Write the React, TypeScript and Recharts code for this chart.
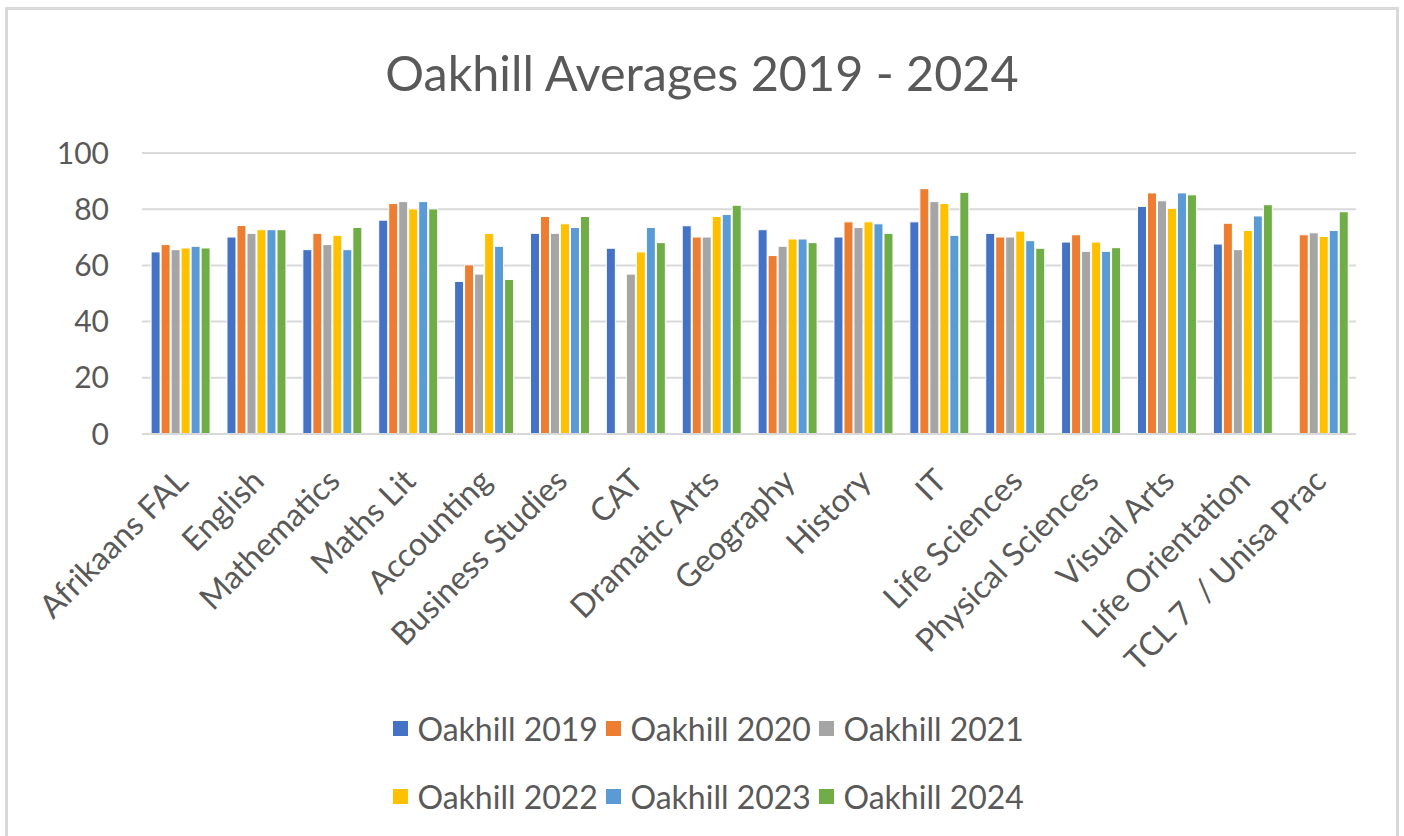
import React from 'react';
import { BarChart, Bar, XAxis, YAxis, CartesianGrid, Legend } from 'recharts';

const categories = [
  'Afrikaans FAL', 'English', 'Mathematics', 'Maths Lit', 'Accounting', 'Business Studies', 'CAT',
  'Dramatic Arts', 'Geography', 'History', 'IT', 'Life Sciences', 'Physical Sciences', 'Visual Arts',
  'Life Orientation', 'TCL 7  / Unisa Prac',
];
const oakhill2019 = [64.8, 70.1, 65.6, 76.1, 54.3, 71.4, 66.1, 74.1, 72.7, 70.1, 75.5, 71.4, 68.3, 81.0, 67.6, null];
const oakhill2020 = [67.4, 74.2, 71.4, 82.0, 60.2, 77.4, null, 70.1, 63.5, 75.5, 87.3, 70.1, 70.9, 85.8, 75.0, 70.9];
const oakhill2021 = [65.6, 71.4, 67.4, 82.7, 56.9, 71.4, 56.9, 70.1, 66.8, 73.5, 82.7, 70.1, 65.0, 83.0, 65.6, 71.6];
const oakhill2022 = [66.2, 72.7, 70.7, 80.1, 71.4, 74.8, 64.8, 77.4, 69.4, 75.5, 82.0, 72.2, 68.3, 80.3, 72.4, 70.3];
const oakhill2023 = [66.8, 72.7, 65.6, 82.7, 66.8, 73.5, 73.5, 78.1, 69.4, 74.8, 70.7, 68.8, 65.0, 85.8, 77.6, 72.4];
const oakhill2024 = [66.2, 72.7, 73.5, 80.1, 55.0, 77.4, 68.1, 81.4, 68.1, 71.4, 86.0, 66.1, 66.3, 85.1, 81.6, 79.1];

const seriesNames = ['Oakhill 2019', 'Oakhill 2020', 'Oakhill 2021', 'Oakhill 2022', 'Oakhill 2023', 'Oakhill 2024'];
const seriesValues = [oakhill2019, oakhill2020, oakhill2021, oakhill2022, oakhill2023, oakhill2024];
const seriesColors = ['#4472C4', '#ED7D31', '#A5A5A5', '#FFC000', '#5B9BD5', '#70AD47'];
const yTicks = [0, 20, 40, 60, 80, 100];
const titleText = 'Oakhill Averages 2019 - 2024';

const data = categories.map((c, i) => {
  const row: Record<string, any> = { category: c };
  seriesNames.forEach((s, k) => {
    row[s] = seriesValues[k][i];
  });
  return row;
});

const FONT = 'Lato, "Open Sans", sans-serif';
const TEXT = '#595959';

const XTick = (props: any) => {
  const { x, y, payload } = props;
  return (
    <g transform={`translate(${x + 10},${y + 49})`}>
      <text
        x={0}
        y={0}
        textAnchor="end"
        transform="rotate(-45)"
        fill={TEXT}
        fontSize={32}
        fontFamily={FONT}
        style={{ whiteSpace: 'pre' }}
      >
        {payload.value}
      </text>
    </g>
  );
};

const LegendContent = () => (
  <div
    style={{
      display: 'grid',
      gridTemplateColumns: 'repeat(3, 213px)',
      rowGap: 32,
      justifyContent: 'center',
      paddingLeft: 20,
      fontFamily: FONT,
      fontSize: 32,
      color: TEXT,
    }}
  >
    {seriesNames.map((s, i) => (
      <div key={s} style={{ display: 'flex', alignItems: 'center', height: 36 }}>
        <span style={{ width: 15, height: 15, background: seriesColors[i], marginRight: 10, display: 'inline-block' }} />
        <span>{s}</span>
      </div>
    ))}
  </div>
);

export default function App() {
  return (
    <div style={{ position: 'absolute', left: 0, top: 0, width: 1404, height: 836, background: '#fff', overflow: 'hidden' }}>
      <div
        style={{
          position: 'absolute', left: 5, top: 7, width: 1394, height: 850,
          border: '3px solid #d9d9d9', boxSizing: 'border-box',
        }}
      />
      <div
        style={{
          position: 'absolute', left: 0, top: 42, width: 1404, textAlign: 'center',
          fontFamily: FONT, fontSize: 48.5, color: TEXT, lineHeight: '60px',
        }}
      >
        {titleText}
      </div>
      <div style={{ position: 'absolute', left: 0, top: 0 }}>
        <BarChart
          width={1404}
          height={836}
          data={data}
          margin={{ top: 153, right: 48, left: 82, bottom: 142 }}
          barCategoryGap="12%"
          barGap={1}
        >
          <CartesianGrid vertical={false} stroke="#d9d9d9" strokeWidth={2} />
          <XAxis
            dataKey="category"
            interval={0}
            height={260}
            tickLine={false}
            tickSize={0}
            tickMargin={0}
            axisLine={{ stroke: '#d9d9d9', strokeWidth: 2 }}
            tick={<XTick />}
          />
          <YAxis
            width={60}
            domain={[0, 100]}
            ticks={yTicks}
            interval={0}
            axisLine={false}
            tickLine={false}
            tickSize={0}
            tickMargin={33}
            tick={{ fill: TEXT, fontSize: 30, fontFamily: FONT }}
          />
          <Legend
            layout="horizontal"
            verticalAlign="middle"
            align="center"
            content={<LegendContent />}
            wrapperStyle={{ position: 'absolute', left: 0, top: 710, width: 1404 }}
          />
          {seriesNames.map((s, i) => (
            <Bar key={s} dataKey={s} fill={seriesColors[i]} stroke="#ffffff" strokeWidth={1} isAnimationActive={false} />
          ))}
        </BarChart>
      </div>
    </div>
  );
}
